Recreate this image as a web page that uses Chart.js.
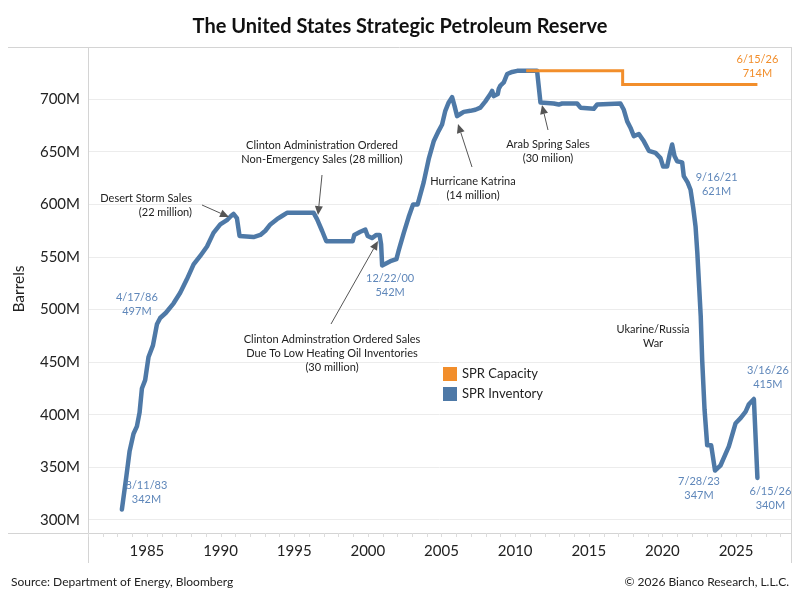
<!DOCTYPE html>
<html>
<head>
<meta charset="utf-8">
<script src="https://cdn.jsdelivr.net/npm/chart.js@4/dist/chart.umd.min.js"></script>
<style>
html,body{margin:0;padding:0;background:#fff;}
#wrap{width:800px;height:600px;position:relative;}
</style>
</head>
<body>
<div id="wrap"><canvas id="c" width="800" height="600"></canvas></div>
<script>
// ---- data ----
const invYears = [1983.30,1983.61,1983.82,1984.09,1984.32,1984.50,1984.66,1984.88,1985.11,1985.41,1985.68,1985.90,1986.29,1986.81,1987.26,1987.72,1988.17,1988.62,1989.08,1989.52,1989.98,1990.43,1990.71,1990.88,1991.11,1991.29,1992.24,1992.70,1993.04,1993.38,1993.83,1994.17,1994.51,1996.32,1996.55,1996.89,1997.18,1998.97,1999.08,1999.49,1999.83,1999.99,2000.28,2000.58,2000.80,2000.90,2000.97,2001.53,2001.94,2002.09,2002.44,2002.77,2003.07,2003.38,2003.79,2004.13,2004.47,2004.81,2005.04,2005.26,2005.49,2005.72,2005.88,2006.06,2006.28,2006.51,2006.96,2007.30,2007.64,2007.98,2008.32,2008.44,2008.55,2008.82,2008.89,2009.00,2009.23,2009.46,2009.80,2010.14,2011.49,2011.72,2012.62,2012.96,2013.19,2014.21,2014.44,2015.34,2015.57,2017.15,2017.38,2017.61,2017.83,2018.06,2018.40,2018.74,2019.08,2019.53,2019.87,2020.05,2020.32,2020.50,2020.66,2020.82,2021.00,2021.34,2021.45,2021.71,2021.91,2022.09,2022.25,2022.37,2022.60,2022.70,2022.86,2023.04,2023.31,2023.57,2023.95,2024.51,2024.97,2025.32,2025.65,2025.87,2026.21,2026.45];
const invValues = [310,342,365,382,389,402,425,433,455,466,486,492,497,506,516,529,543,551,560,573,581,585,589,591,587,570,569,571,575,581,586,589,592,592,586,575,565,565,571,574,576,570,568,571,571,562,542,546,548,556,573,588,600,600,621,643,660,670,676,689,697,702,694,684,686,688,689,690,692,698,705,708,703,705,710,713,716,724,726,727,727,697,696,695,696,696,692,691,695,696,690,679,673,665,667,660,651,649,644,636,636,648,657,646,641,640,627,621,614,597,579,554,494,452,405,371,371,347,352,370,392,397,403,410,415,340];
const capYears = [2010.75, 2017.30, 2017.30, 2026.45];
const capValues = [727, 727, 714, 714];
const xTickValues = [1985, 1990, 1995, 2000, 2005, 2010, 2015, 2020, 2025];
const yTickValues = [300, 350, 400, 450, 500, 550, 600, 650, 700];
const seriesNames = ["SPR Capacity", "SPR Inventory"];
// labelled points: [year, value, date text, value text, series]
const pointLabels = [
  [1983.61, 342, "8/11/83", "342M", 1],
  [1986.29, 497, "4/17/86", "497M", 1],
  [2000.97, 542, "12/22/00", "542M", 1],
  [2021.71, 621, "9/16/21", "621M", 1],
  [2023.57, 347, "7/28/23", "347M", 1],
  [2026.21, 415, "3/16/26", "415M", 1],
  [2026.45, 340, "6/15/26", "340M", 1],
  [2026.45, 714, "6/15/26", "714M", 0]
];
const eventNotes = [
  {lines:["Desert Storm Sales","(22 million)"]},
  {lines:["Clinton Administration Ordered","Non-Emergency Sales (28 million)"]},
  {lines:["Clinton Adminstration Ordered Sales","Due To Low Heating Oil Inventories","(30 million)"]},
  {lines:["Hurricane Katrina","(14 million)"]},
  {lines:["Arab Spring Sales","(30 milion)"]},
  {lines:["Ukarine/Russia","War"]}
];

const ORANGE = "#f28e2b", BLUE = "#4e79a7", LBLUE = "#5f87ba";
const FONT = "Lato, 'Noto Sans', sans-serif";

const mk = (xs, ys) => xs.map((x, i) => ({x: x, y: ys[i]}));

// label placement (pixel offsets of label centre from its data point)
const labelOffsets = [
  [20, 17], [-29, -8], [8, 20], [29, 2], [-16, 18], [14, -22], [13, 21], [0, -18]
];
// note layout: [x, y, align, arrow]
const noteLayout = [
  [192, 198, "right", [202,205,229,217]],
  [322, 145, "center", [322,175,318,215]],
  [332, 339, "center", [331,324,378,241]],
  [473, 181, "center", [472,167,458,124]],
  [548, 144, "center", [548,130,542,105]],
  [653, 329, "center", null]
];

function arrow(ctx, x1, y1, x2, y2) {
  ctx.save();
  ctx.strokeStyle = "#555"; ctx.fillStyle = "#555"; ctx.lineWidth = 1;
  const a = Math.atan2(y2 - y1, x2 - x1);
  const hl = 9, hw = 4;
  const bx = x2 - hl * Math.cos(a), by = y2 - hl * Math.sin(a);
  ctx.beginPath(); ctx.moveTo(x1, y1); ctx.lineTo(bx, by); ctx.stroke();
  ctx.beginPath();
  ctx.moveTo(x2, y2);
  ctx.lineTo(bx + hw * Math.sin(a), by - hw * Math.cos(a));
  ctx.lineTo(bx - hw * Math.sin(a), by + hw * Math.cos(a));
  ctx.closePath(); ctx.fill();
  ctx.restore();
}

const framePlugin = {
  id: "frame",
  beforeDatasetsDraw(chart) {
    const ctx = chart.ctx, a = chart.chartArea;
    ctx.save();
    ctx.strokeStyle = "#d4d4d4"; ctx.lineWidth = 1;
    ctx.beginPath();
    ctx.moveTo(8, a.top + 0.5); ctx.lineTo(a.right, a.top + 0.5);
    ctx.moveTo(8, a.bottom + 0.5); ctx.lineTo(a.right, a.bottom + 0.5);
    ctx.moveTo(a.left + 0.5, a.top); ctx.lineTo(a.left + 0.5, 563);
    ctx.moveTo(a.right + 0.5, a.top); ctx.lineTo(a.right + 0.5, 563);
    ctx.stroke();
    // minor yearly ticks
    const xs = chart.scales.x;
    ctx.strokeStyle = "#dcdcdc";
    ctx.beginPath();
    for (let yr = Math.ceil(xs.min); yr <= xs.max; yr++) {
      const px = Math.round(xs.getPixelForValue(yr)) + 0.5;
      ctx.moveTo(px, a.bottom); ctx.lineTo(px, a.bottom + 4);
    }
    ctx.stroke();
    ctx.restore();
  },
  afterDraw(chart) {
    const ctx = chart.ctx, xs = chart.scales.x, ys = chart.scales.y;
    ctx.save();
    // title
    ctx.fillStyle = "#111"; ctx.textAlign = "center"; ctx.textBaseline = "middle";
    ctx.font = "bold 20px " + FONT;
    ctx.fillText("The United States Strategic Petroleum Reserve", 400, 27);
    // y title
    ctx.save();
    ctx.translate(19, 289); ctx.rotate(-Math.PI / 2);
    ctx.font = "15.5px " + FONT; ctx.fillStyle = "#222";
    ctx.fillText("Barrels", 0, 0);
    ctx.restore();
    // footer
    ctx.font = "12px " + FONT; ctx.fillStyle = "#222";
    ctx.textAlign = "left"; ctx.fillText("Source: Department of Energy, Bloomberg", 11, 582);
    ctx.textAlign = "right"; ctx.fillText("\u00A9 2026 Bianco Research, L.L.C.", 789, 582);
    // point labels
    ctx.font = "11px " + FONT; ctx.textAlign = "center";
    pointLabels.forEach((p, i) => {
      const px = xs.getPixelForValue(p[0]), py = ys.getPixelForValue(p[1]);
      const o = labelOffsets[i];
      ctx.fillStyle = p[4] === 0 ? ORANGE : LBLUE;
      ctx.fillText(p[2], px + o[0], py + o[1] - 7);
      ctx.fillText(p[3], px + o[0], py + o[1] + 7);
    });
    // event notes
    ctx.font = "11px " + FONT; ctx.fillStyle = "#222";
    eventNotes.forEach((n, i) => {
      const L = noteLayout[i];
      ctx.textAlign = L[2];
      n.lines.forEach((t, j) => ctx.fillText(t, L[0], L[1] + j * 14));
      if (L[3]) arrow(ctx, L[3][0], L[3][1], L[3][2], L[3][3]);
    });
    // legend
    const cols = [ORANGE, BLUE];
    ctx.font = "13px " + FONT; ctx.textAlign = "left";
    seriesNames.forEach((s, i) => {
      ctx.fillStyle = cols[i];
      ctx.fillRect(443, 367 + i * 20, 14, 14);
      ctx.fillStyle = "#222";
      ctx.fillText(s, 462, 374 + i * 20);
    });
    ctx.restore();
  }
};

new Chart(document.getElementById("c"), {
  type: "line",
  data: {
    datasets: [
      {label: seriesNames[0], data: mk(capYears, capValues), borderColor: ORANGE, borderWidth: 3, pointRadius: 0, tension: 0, fill: false},
      {label: seriesNames[1], data: mk(invYears, invValues), borderColor: BLUE, borderWidth: 4.5, pointRadius: 0, tension: 0, fill: false, borderJoinStyle: "round", borderCapStyle: "round"}
    ]
  },
  options: {
    responsive: false,
    animation: false,
    devicePixelRatio: 1,
    layout: {padding: {left: 8, right: 9, top: 47, bottom: 38}},
    plugins: {legend: {display: false}, tooltip: {enabled: false}, title: {display: false}},
    scales: {
      x: {
        type: "linear", min: 1981.0, max: 2028.73,
        afterBuildTicks: s => { s.ticks = xTickValues.map(v => ({value: v})); },
        afterFit: s => { s.height = 29; },
        grid: {display: false, drawTicks: false},
        border: {display: false},
        ticks: {font: {family: FONT, size: 15}, color: "#222", padding: 9, maxRotation: 0, callback: v => String(v)}
      },
      y: {
        type: "linear", min: 287.6, max: 749.7,
        afterBuildTicks: s => { s.ticks = yTickValues.map(v => ({value: v})); },
        afterFit: s => { s.width = 80; },
        grid: {color: "#ececec", drawTicks: false},
        border: {display: false},
        ticks: {font: {family: FONT, size: 15}, color: "#222", padding: 8, callback: v => v + "M"}
      }
    }
  },
  plugins: [framePlugin]
});
</script>
</body>
</html>
